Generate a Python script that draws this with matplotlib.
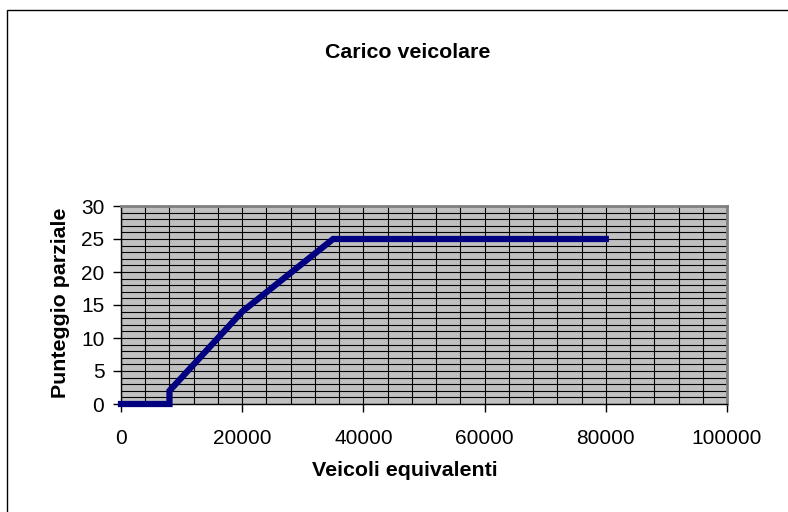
import matplotlib
matplotlib.use("Agg")
import matplotlib.pyplot as plt
from matplotlib.patches import Rectangle
from matplotlib.ticker import MultipleLocator

# Data
veicoli = [0, 8000, 8000, 20000, 35000, 80000]
punteggio = [0, 0, 2, 14, 25, 25]
x_ticks = [0, 20000, 40000, 60000, 80000, 100000]
y_ticks = [0, 5, 10, 15, 20, 25, 30]

title = "Carico veicolare"
xlabel = "Veicoli equivalenti"
ylabel = "Punteggio parziale"

plt.rcParams['font.family'] = ['Liberation Sans', 'DejaVu Sans']

W, H = 788, 512
fig = plt.figure(figsize=(W / 100, H / 100), dpi=100)

# outer chart border
fig.patches.append(Rectangle((7 / W, -0.1), 1.2, 1 - 10 / H + 0.1, transform=fig.transFigure,
                             fill=False, edgecolor='#000000', linewidth=1.0, figure=fig))

left, right, top, bottom = 121, 727, 206, 404
ax = fig.add_axes([left / W, 1 - bottom / H, (right - left) / W, (bottom - top) / H])
ax.set_facecolor('#C0C0C0')

ax.set_xlim(0, 100000)
ax.set_ylim(0, 30)
ax.set_xticks(x_ticks)
ax.set_yticks(y_ticks)
ax.xaxis.set_minor_locator(MultipleLocator(4000))
ax.yaxis.set_minor_locator(MultipleLocator(1))

ax.grid(True, which='both', color='#000000', linewidth=0.8)
ax.set_axisbelow(True)
ax.tick_params(axis='both', which='minor', length=0)
ax.tick_params(axis='both', which='major', direction='out', length=6, width=1,
               color='black', labelsize=15)
ax.tick_params(axis='x', pad=12)
ax.tick_params(axis='y', pad=6)

for s in ['top', 'right']:
    ax.spines[s].set_color('#808080')
    ax.spines[s].set_linewidth(2)
for s in ['left', 'bottom']:
    ax.spines[s].set_color('#000000')
    ax.spines[s].set_linewidth(1)

ax.plot(veicoli, punteggio, color='#000080', linewidth=4.5, solid_capstyle='projecting',
        solid_joinstyle='miter', clip_on=False, zorder=3)

fig.text(405 / W, 1 - 470 / H, xlabel, ha='center', va='center', fontsize=15.4, fontweight='bold')
fig.text(60 / W, 1 - 303 / H, ylabel, ha='center', va='center', rotation=90,
         fontsize=15.4, fontweight='bold')
fig.text(408 / W, 1 - 52 / H, title, ha='center', va='center', fontsize=15.4, fontweight='bold')

fig.savefig('out.png', dpi=100)
